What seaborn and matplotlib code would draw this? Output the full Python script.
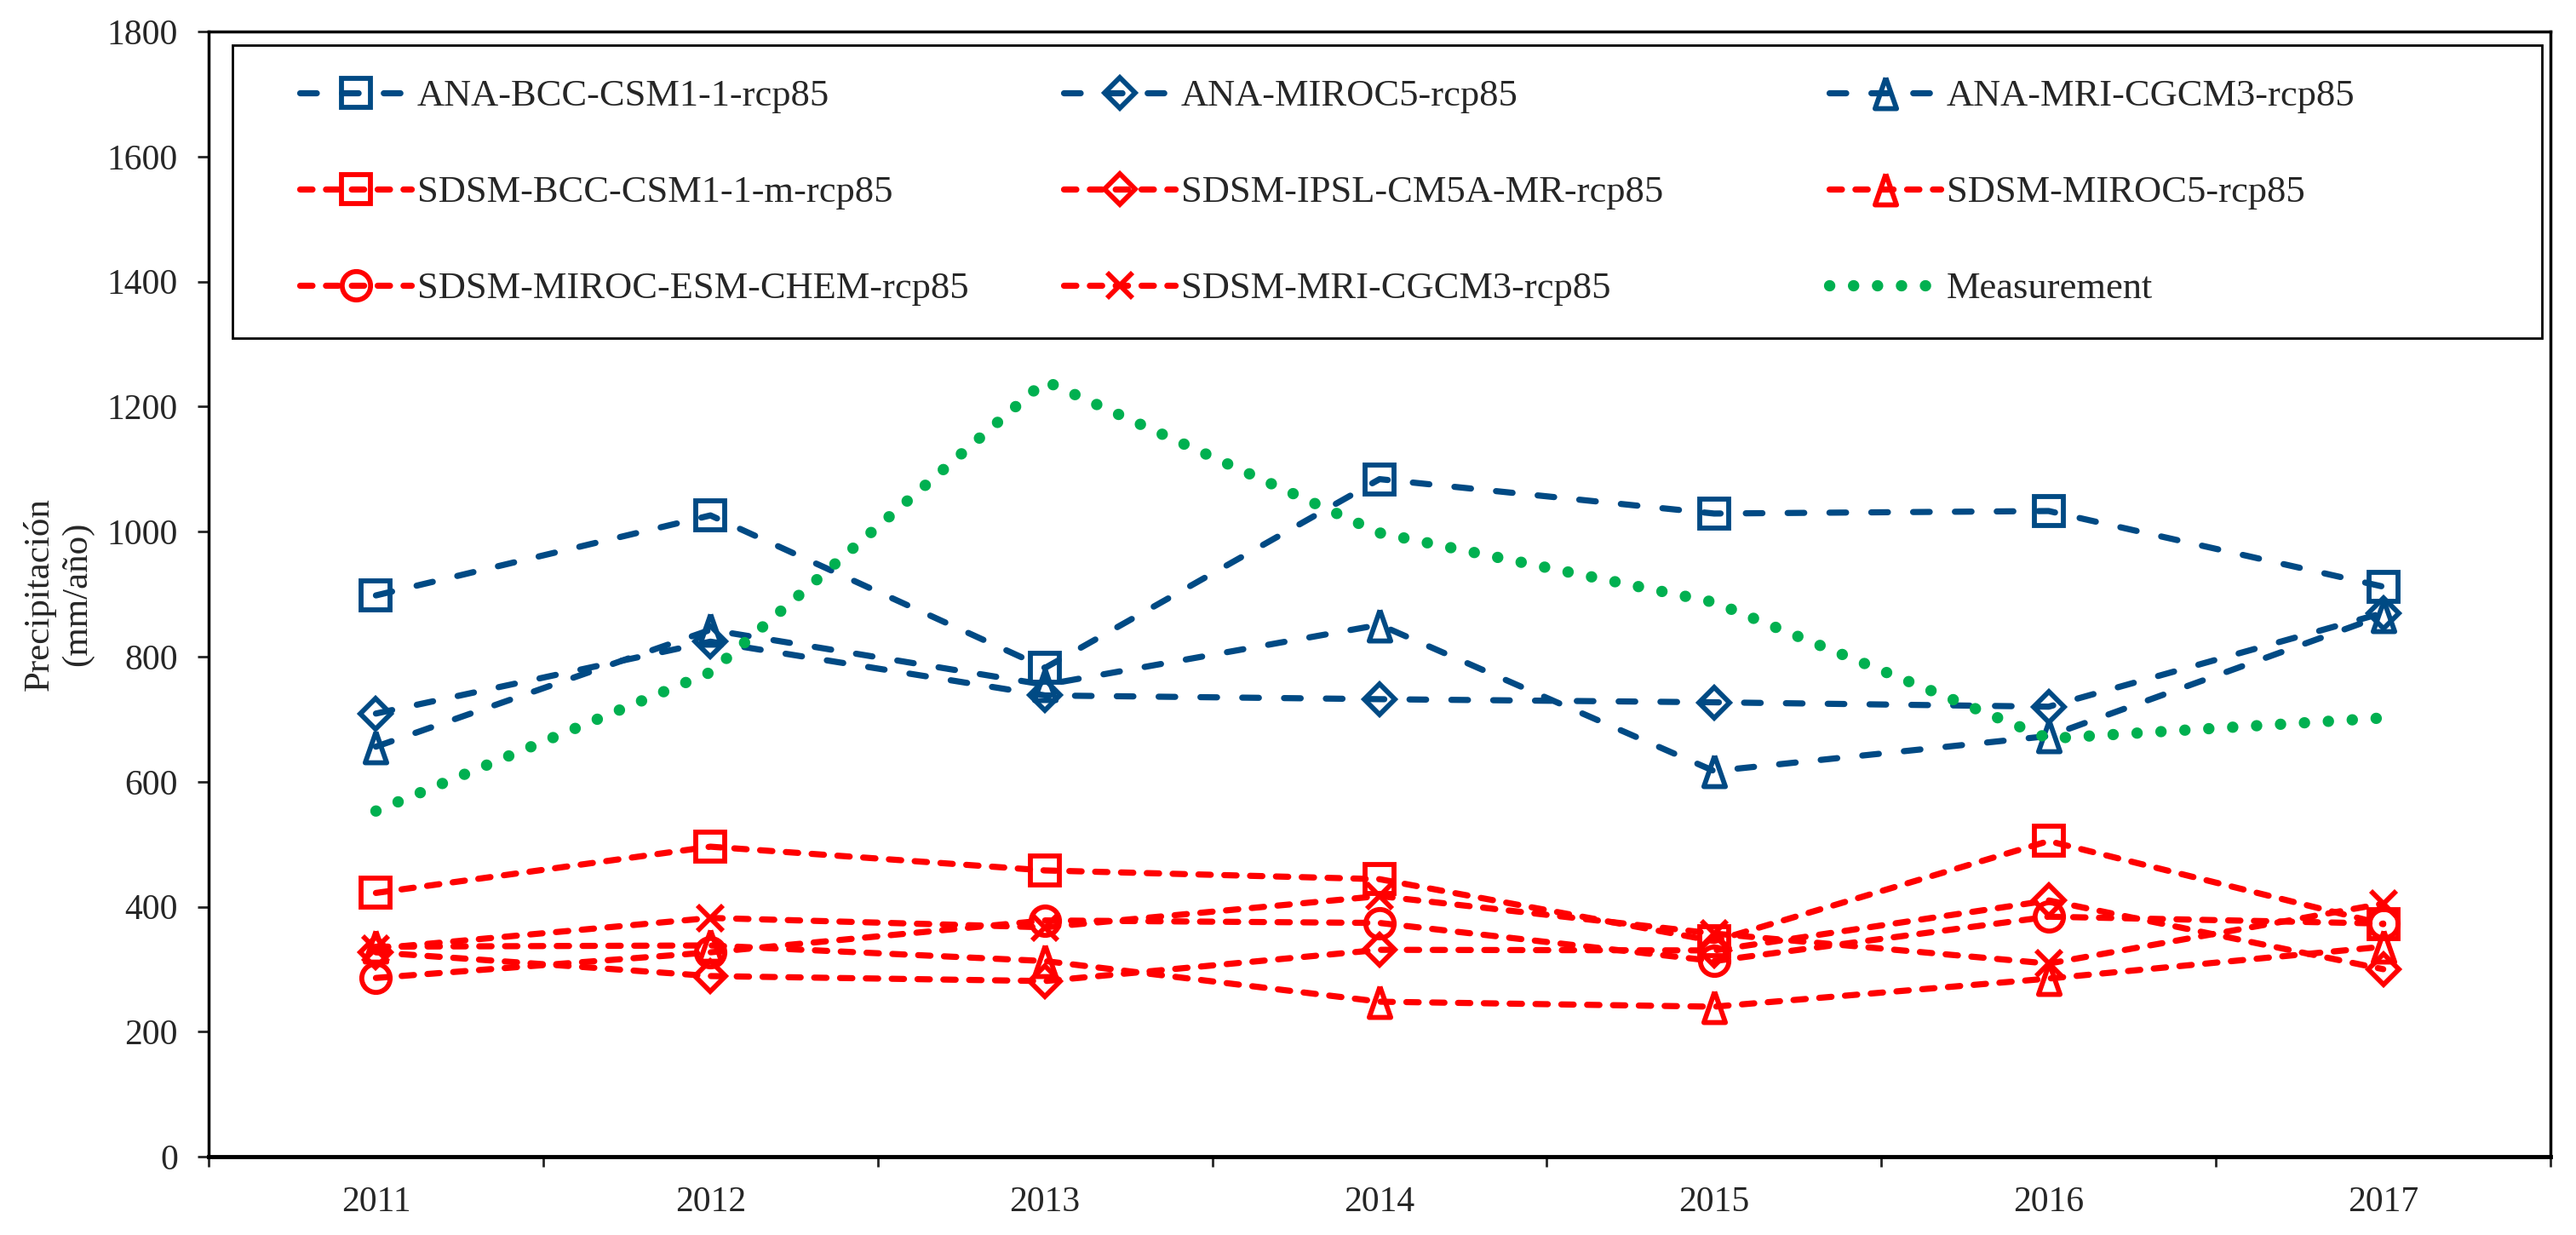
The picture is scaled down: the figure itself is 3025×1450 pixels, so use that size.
import numpy as np
import pandas as pd
import matplotlib.pyplot as plt
import seaborn as sns
from matplotlib.patches import Rectangle

# Annual precipitation (mm/año)
years = [2011, 2012, 2013, 2014, 2015, 2016, 2017]

ana_bcc = [898, 1026, 782, 1084, 1029, 1033, 912]
ana_miroc5 = [709, 824, 738, 732, 727, 720, 870]
ana_mri = [656, 843, 755, 851, 617, 673, 866]
sdsm_bcc = [422, 496, 458, 444, 345, 505, 372]
sdsm_ipsl = [327, 289, 281, 331, 330, 410, 300]
sdsm_miroc5 = [336, 338, 313, 248, 240, 285, 336]
sdsm_miroc_esm = [286, 327, 378, 374, 313, 384, 373]
sdsm_mri = [333, 382, 367, 417, 357, 309, 405]
measurement = [553, 775, 1241, 998, 887, 669, 702]

series_names = ['ANA-BCC-CSM1-1-rcp85', 'ANA-MIROC5-rcp85', 'ANA-MRI-CGCM3-rcp85',
                'SDSM-BCC-CSM1-1-m-rcp85', 'SDSM-IPSL-CM5A-MR-rcp85', 'SDSM-MIROC5-rcp85',
                'SDSM-MIROC-ESM-CHEM-rcp85', 'SDSM-MRI-CGCM3-rcp85', 'Measurement']
series_values = [ana_bcc, ana_miroc5, ana_mri, sdsm_bcc, sdsm_ipsl, sdsm_miroc5,
                 sdsm_miroc_esm, sdsm_mri, measurement]

df = pd.DataFrame([(n, y, v) for n, vals in zip(series_names, series_values)
                   for y, v in zip(years, vals)], columns=['serie', 'year', 'value'])

blue = '#004A84'
red = '#FF0000'
green = '#00B050'
tri = [(0, 1), (-0.7, -1), (0.7, -1), (0, 1)]

blue_ls = (0, (2.7, 4.1))
red_ls = (0, (2.0, 2.2))
styles = {
    'ANA-BCC-CSM1-1-rcp85': dict(color=blue, marker='s', ms=24, ls=blue_ls),
    'ANA-MIROC5-rcp85': dict(color=blue, marker='D', ms=18.5, ls=blue_ls),
    'ANA-MRI-CGCM3-rcp85': dict(color=blue, marker=tri, ms=26, ls=blue_ls),
    'SDSM-BCC-CSM1-1-m-rcp85': dict(color=red, marker='s', ms=24, ls=red_ls),
    'SDSM-IPSL-CM5A-MR-rcp85': dict(color=red, marker='D', ms=18.5, ls=red_ls),
    'SDSM-MIROC5-rcp85': dict(color=red, marker=tri, ms=26, ls=red_ls),
    'SDSM-MIROC-ESM-CHEM-rcp85': dict(color=red, marker='o', ms=24, ls=red_ls),
    'SDSM-MRI-CGCM3-rcp85': dict(color=red, marker='x', ms=22, ls=red_ls),
}

sns.set_style('ticks')
plt.rcParams['font.family'] = ['Liberation Serif', 'DejaVu Serif']

fig = plt.figure(figsize=(30.25, 14.5), dpi=100)
ax = fig.add_axes([0.081, 0.0634, 0.9091, 0.911])

for name in series_names:
    sub = df[df['serie'] == name]
    if name == 'Measurement':
        sns.lineplot(data=sub, x='year', y='value', ax=ax, color=green, lw=9.6,
                     ls=(0, (0.01, 2.1)), dash_capstyle='round', label=name,
                     errorbar=None, zorder=4)
    else:
        st = styles[name]
        sns.lineplot(data=sub, x='year', y='value', ax=ax, color=st['color'], lw=5.2,
                     ls=st['ls'], dash_capstyle='round', marker=st['marker'],
                     ms=st['ms'], mfc='none', mec=st['color'], mew=4.2,
                     label=name, errorbar=None, zorder=3)

ax.set_xlim(2010.5, 2017.5)
ax.set_ylim(0, 1800)
ax.set_xticks(years)
ax.set_xticks(np.arange(2010.5, 2018, 1), minor=True)
ax.set_yticks(range(0, 1801, 200))
ax.tick_params(axis='x', which='major', length=0, pad=25, labelsize=30)
ax.tick_params(axis='x', which='minor', length=8.6, width=2, direction='out')
ax.tick_params(axis='y', which='major', length=9.4, width=2, direction='out',
               pad=16.6, labelsize=30)
ax.tick_params(axis='y', which='minor', length=0)

for s in ['left', 'right', 'top']:
    ax.spines[s].set_linewidth(2.5)
ax.spines['bottom'].set_linewidth(3.5)
for s in ax.spines.values():
    s.set_color('black')

ax.set_xlabel('')
ax.set_ylabel('Precipitación\n(mm/año)', fontsize=31)
ax.yaxis.set_label_coords(-0.049, 0.5)

# legend: three single-column legends so each column starts where the reference has it
handles, labs = ax.get_legend_handles_labels()
col_x = [0.0389, 0.3651, 0.692]
legends = []
for c, x0 in enumerate(col_x):
    idx = [c, c + 3, c + 6]
    leg = ax.legend([handles[i] for i in idx], [labs[i] for i in idx],
                    loc='upper left', bbox_to_anchor=(x0, 0.9575), frameon=False,
                    borderpad=0, borderaxespad=0, handlelength=2.95, handletextpad=0.15,
                    labelspacing=1.64, fontsize=32, numpoints=1)
    legends.append(leg)
for leg in legends[:-1]:
    ax.add_artist(leg)
ax.add_patch(Rectangle((0.0102, 0.7275), 0.986, 0.2605, transform=ax.transAxes,
                       fill=False, lw=2, ec='black', zorder=5))

plt.savefig('out.png', dpi=100)
